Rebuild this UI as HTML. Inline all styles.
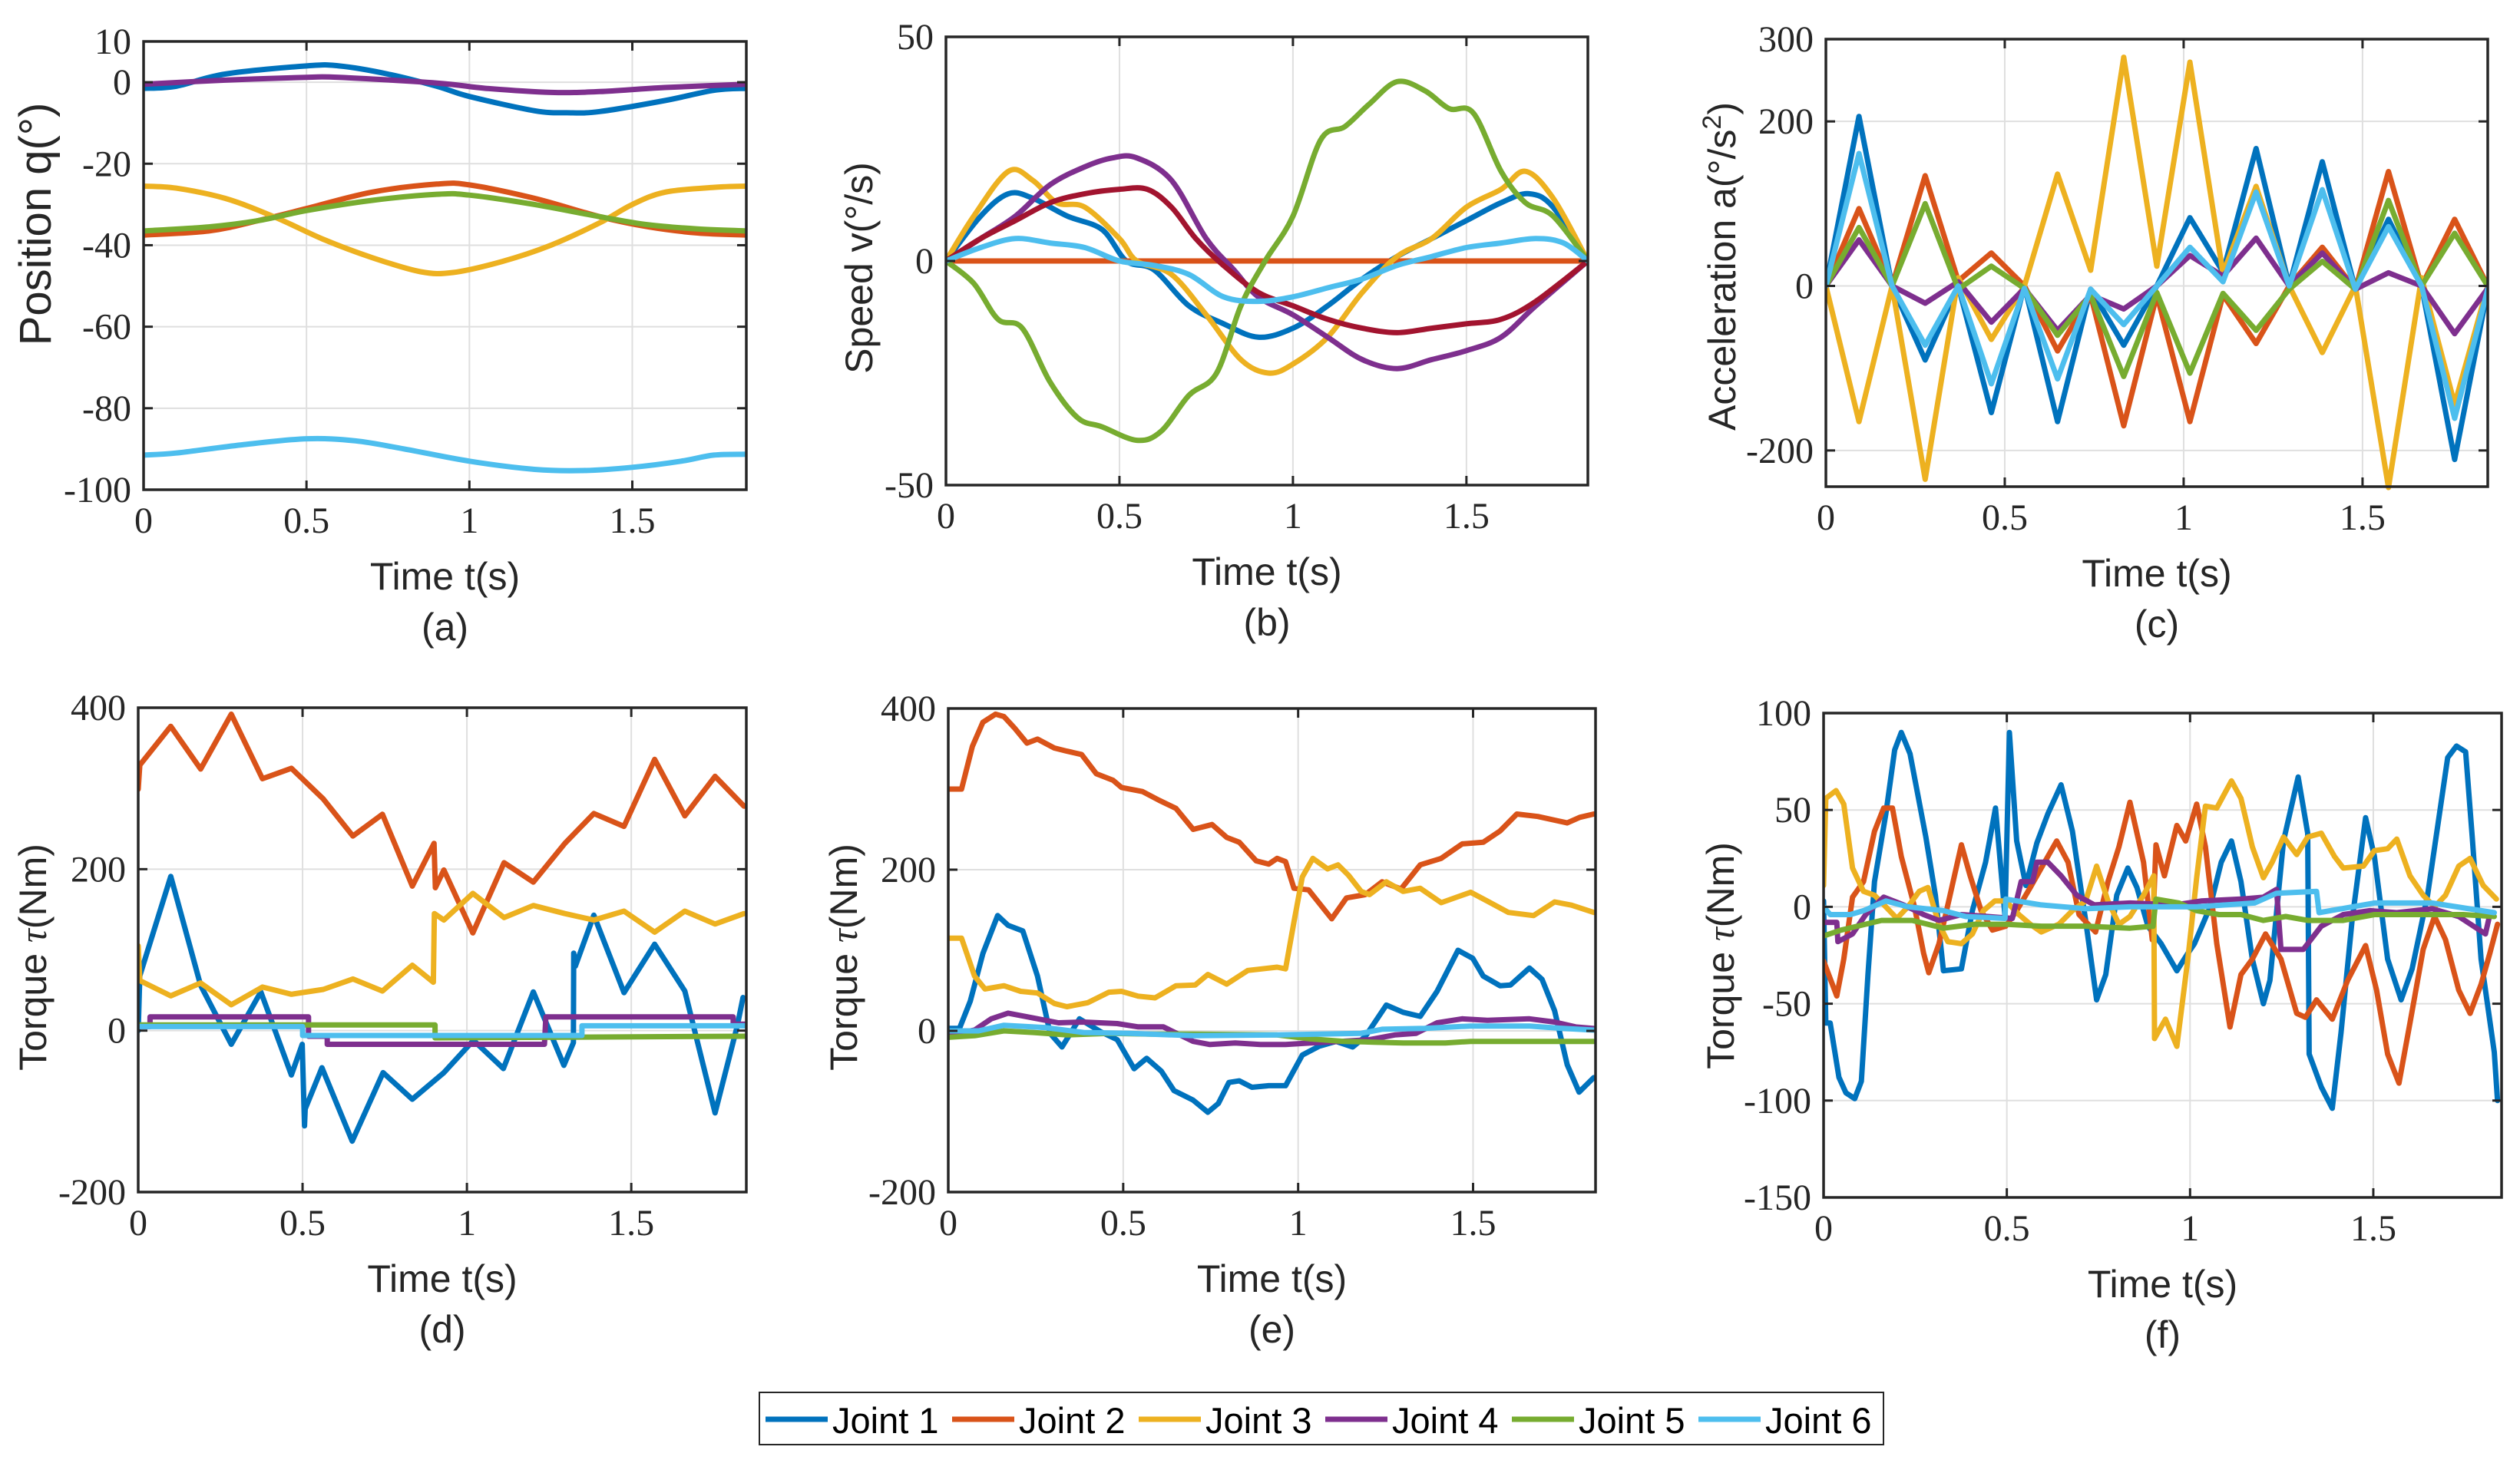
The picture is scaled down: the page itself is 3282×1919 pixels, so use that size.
<!DOCTYPE html>
<html><head><meta charset="utf-8"><title>Joint trajectories</title>
<style>
html,body{margin:0;padding:0;background:#fff;}
svg{display:block;}
.tick{font-family:"Liberation Serif",serif;font-size:48px;fill:#262626;}
.atitle{font-family:"Liberation Sans",sans-serif;font-size:50px;fill:#262626;}
.leg{font-family:"Liberation Sans",sans-serif;font-size:47px;fill:#000;}
</style></head>
<body>
<svg id="fig" xmlns="http://www.w3.org/2000/svg" width="3282" height="1919" viewBox="0 0 3282 1919">
<rect x="0" y="0" width="3282" height="1919" fill="#fff"/>
<g id="legend">
<rect x="989" y="1814" width="1464" height="68" fill="#fff" stroke="#262626" stroke-width="2"/>
</g>
</svg>
<script>
// ---------- colours ----------
const colors = ["#0072BD","#D95319","#EDB120","#7E2F8E","#77AC30","#4DBEEE","#A2142F"];
const jointNames = ["Joint 1","Joint 2","Joint 3","Joint 4","Joint 5","Joint 6"];

// ---------- (a) position ----------
const posTicksY = [-100,-80,-60,-40,-20,0,10];
const posT1 = [0,0.1,0.25,0.5,0.6,0.75,0.9,1.0,1.2,1.3,1.4,1.6,1.75,1.85];
const posQ1 = [-1.5,-1,2,4,4,2,-1,-3.5,-7,-7.5,-7.2,-4.5,-2,-1.5];
const posT2 = [0,0.2,0.35,0.5,0.7,0.9,1.0,1.2,1.4,1.55,1.7,1.85];
const posQ2 = [-37.5,-36.5,-34,-31,-27,-25,-25.2,-28.5,-33,-35.5,-37,-37.5];
const posT3 = [0,0.1,0.25,0.4,0.55,0.7,0.85,0.95,1.1,1.25,1.4,1.5,1.6,1.75,1.85];
const posQ3 = [-25.5,-26,-28.5,-33,-38.5,-43,-46.5,-46.7,-44,-40,-34.5,-30,-27,-25.8,-25.5];
const posT4 = [0,0.25,0.5,0.6,0.9,1.05,1.25,1.4,1.6,1.85];
const posQ4 = [-0.5,0.5,1.2,1.2,-0.2,-1.5,-2.5,-2.3,-1.3,-0.5];
const posT5 = [0,0.2,0.35,0.5,0.7,0.9,1.0,1.2,1.4,1.55,1.7,1.85];
const posQ5 = [-36.5,-35.5,-34,-31.5,-29,-27.5,-27.7,-30,-33,-35,-36,-36.5];
const posT6 = [0,0.1,0.3,0.5,0.65,0.8,1.0,1.2,1.35,1.5,1.65,1.75,1.85];
const posQ6 = [-91.5,-91,-89,-87.5,-88,-90,-93,-95,-95.3,-94.5,-93,-91.5,-91.3];

// ---------- (b) speed ----------
const spdTicksY = [-50,0,50];
const spdT1 = [0,0.1,0.18,0.25,0.35,0.45,0.52,0.6,0.7,0.8,0.9,1.0,1.1,1.2,1.3,1.4,1.5,1.6,1.68,1.75,1.85];
const spdV1 = [0,10,15,14,10,7,0,-2,-10,-14,-17,-15,-10,-4,1,5,9,13,15,12,0];
const spdT2 = [0,1.85];
const spdV2 = [0,0];
const spdT3 = [0,0.08,0.18,0.25,0.32,0.4,0.5,0.55,0.65,0.75,0.85,0.93,1.0,1.1,1.2,1.3,1.4,1.5,1.6,1.67,1.75,1.85];
const spdV3 = [0,10,20,18,13,12,5,0,-3,-12,-22,-25,-23,-17,-7,1,5,12,16,20,14,0];
const spdT4 = [0,0.1,0.2,0.3,0.4,0.48,0.55,0.65,0.75,0.83,0.9,1.0,1.1,1.2,1.3,1.4,1.5,1.6,1.7,1.85];
const spdV4 = [0,5,10,17,21,23,23,18,5,-2,-8,-12,-17,-22,-24,-22,-20,-17,-10,0];
const spdT7 = [0,0.1,0.2,0.3,0.4,0.5,0.58,0.65,0.72,0.8,0.9,1.0,1.1,1.2,1.3,1.4,1.5,1.6,1.7,1.85];
const spdV7 = [0,5,9,13,15,16,16,12,5,-1,-7,-10,-13,-15,-16,-15,-14,-13,-9,0];
const spdT5 = [0,0.08,0.15,0.22,0.3,0.38,0.45,0.55,0.62,0.7,0.78,0.85,0.92,1.0,1.08,1.15,1.22,1.3,1.38,1.45,1.52,1.6,1.67,1.75,1.85];
const spdV5 = [0,-5,-13,-15,-27,-35,-37,-40,-38,-30,-25,-10,0,10,27,30,35,40,38,34,33,20,13,10,0];
const spdT6 = [0,0.1,0.2,0.3,0.4,0.5,0.6,0.7,0.8,0.9,1.0,1.1,1.2,1.3,1.4,1.5,1.6,1.7,1.78,1.85];
const spdV6 = [0,3,5,4,3,0,-1,-3,-8,-9,-8,-6,-4,-1,1,3,4,5,4,0];

// ---------- (c) acceleration ----------
const accTicksY = [-200,0,200,300];
const accT = [0,0.0925,0.185,0.2775,0.37,0.4625,0.555,0.6475,0.74,0.8325,0.925,1.0175,1.11,1.2025,1.295,1.3875,1.48,1.5725,1.665,1.7575,1.85];
const accA1 = [0,206,0,-90,0,-154,0,-165,-4,-72,0,83,17,167,0,151,-4,81,0,-211,-4];
const accA2 = [0,94,0,134,6,40,0,-79,-11,-170,-11,-165,-11,-70,0,47,-4,139,0,81,0];
const accA3 = [0,-165,0,-235,10,-65,0,136,19,278,24,272,15,121,0,-81,0,-245,10,-144,0];
const accA4 = [0,56,0,-21,5,-44,-3,-54,-11,-28,0,37,12,58,0,40,-4,16,0,-58,-3];
const accA5 = [0,71,0,100,-4,24,-3,-60,-11,-110,-8,-106,-9,-54,-4,30,-4,104,0,64,0];
const accA6 = [0,161,0,-72,0,-119,-3,-113,-4,-47,0,47,5,114,0,117,-4,72,0,-161,-4];

// ---------- (d) torque (model) ----------
const trqTicksY = [-200,0,200,400];
const tqdT1 = [0,0.005,0.099,0.19,0.283,0.373,0.466,0.499,0.506,0.508,0.559,0.651,0.745,0.834,0.93,1.02,1.111,1.202,1.295,1.324,1.325,1.33,1.386,1.478,1.571,1.663,1.755,1.822,1.84];
const tqdV1 = [0,68,191,56,-17,48,-55,-17,-118,-97,-46,-137,-52,-85,-52,-12,-47,48,-43,-15,96,80,143,47,107,49,-102,5,41];
const tqdT2 = [0,0.005,0.099,0.19,0.283,0.378,0.466,0.563,0.653,0.743,0.834,0.9,0.904,0.93,1.018,1.113,1.202,1.298,1.386,1.478,1.571,1.663,1.755,1.843];
const tqdV2 = [299,329,377,324,392,312,325,287,241,268,179,232,177,199,121,208,184,232,269,253,336,266,315,278];
const tqdT3 = [0,0.005,0.099,0.19,0.283,0.378,0.466,0.563,0.653,0.743,0.834,0.898,0.901,0.93,1.018,1.113,1.202,1.298,1.386,1.478,1.571,1.663,1.755,1.843];
const tqdV3 = [105,62,43,59,32,54,45,51,64,49,81,60,145,137,170,140,155,145,137,148,122,148,132,145];
const tqdT4 = [0,0.036,0.036,0.518,0.518,0.575,0.575,1.236,1.24,1.81,1.81,1.85];
const tqdV4 = [5,5,17,17,-7,-7,-17,-17,17,17,8,8];
const tqdT5 = [0,0.903,0.903,1.85];
const tqdV5 = [7,7,-9,-7];
const tqdT6 = [0,0.5,0.5,1.35,1.35,1.85];
const tqdV6 = [5,5,-6,-6,6,6];

// ---------- (e) torque (measured) ----------
const tqeT1 = [0,0.032,0.063,0.099,0.141,0.171,0.213,0.255,0.291,0.325,0.375,0.435,0.483,0.531,0.567,0.609,0.645,0.7,0.742,0.772,0.802,0.832,0.868,0.916,0.964,1.012,1.06,1.108,1.156,1.192,1.252,1.3,1.349,1.397,1.457,1.499,1.529,1.577,1.607,1.661,1.697,1.733,1.769,1.803,1.845];
const tqeV1 = [3,3,37,96,143,131,124,68,-3,-20,15,-1,-11,-47,-34,-50,-74,-86,-101,-90,-64,-62,-70,-68,-68,-30,-19,-13,-20,-7,32,23,18,49,100,90,68,56,57,78,64,25,-42,-76,-58];
const tqeT2 = [0,0.038,0.069,0.099,0.135,0.159,0.189,0.225,0.255,0.303,0.339,0.381,0.423,0.471,0.495,0.555,0.603,0.651,0.7,0.754,0.796,0.832,0.88,0.916,0.94,0.964,0.988,1.03,1.096,1.138,1.192,1.24,1.294,1.349,1.409,1.469,1.529,1.577,1.625,1.685,1.769,1.805,1.845];
const tqeV2 = [300,300,353,383,393,390,376,357,362,351,347,343,319,311,302,297,286,276,250,256,240,234,211,207,214,210,177,175,139,165,169,185,176,206,214,232,234,248,269,266,258,265,269];
const tqeT3 = [0,0.038,0.075,0.105,0.159,0.207,0.255,0.303,0.339,0.399,0.459,0.495,0.543,0.591,0.651,0.706,0.742,0.796,0.856,0.94,0.964,0.988,1.012,1.042,1.084,1.114,1.144,1.18,1.204,1.252,1.3,1.349,1.409,1.493,1.541,1.601,1.673,1.733,1.781,1.845];
const tqeV3 = [115,115,68,52,56,49,47,34,30,35,48,49,43,41,56,57,70,58,75,79,77,135,191,214,201,206,193,173,169,185,173,177,159,172,161,147,143,160,156,147];
const tqeT4 = [0,0.075,0.123,0.171,0.243,0.315,0.387,0.483,0.543,0.615,0.7,0.748,0.82,0.892,0.964,1.036,1.12,1.204,1.276,1.337,1.397,1.469,1.541,1.661,1.733,1.793,1.845];
const tqeV4 = [-5,1,15,22,16,10,11,9,5,5,-13,-17,-15,-17,-17,-15,-13,-11,-5,-3,10,15,13,15,11,5,3];
const tqeT5 = [0,0.075,0.159,0.243,0.339,0.459,0.579,0.7,0.94,1.036,1.132,1.216,1.3,1.421,1.493,1.661,1.845];
const tqeV5 = [-8,-6,0,-2,-5,-3,-4,-4,-5,-10,-13,-14,-15,-15,-13,-13,-13];
const tqeT6 = [0,0.087,0.159,0.279,0.387,0.519,0.7,0.94,1.18,1.24,1.361,1.493,1.661,1.757,1.845];
const tqeV6 = [0,0,7,4,-2,-3,-6,-5,-3,2,3,6,6,3,1];

// ---------- (f) torque error ----------
const errTicksY = [-150,-100,-50,0,50,100];
const tqfT1 = [0,0.006,0.018,0.042,0.061,0.085,0.103,0.121,0.139,0.17,0.194,0.212,0.236,0.279,0.305,0.327,0.376,0.406,0.442,0.469,0.495,0.507,0.527,0.552,0.582,0.612,0.648,0.679,0.715,0.745,0.77,0.8,0.83,0.855,0.885,0.921,0.964,0.994,1.012,1.055,1.085,1.113,1.139,1.17,1.2,1.218,1.255,1.295,1.321,1.325,1.358,1.388,1.412,1.442,1.479,1.503,1.539,1.576,1.606,1.648,1.679,1.703,1.727,1.752,1.77,1.794,1.83,1.839];
const tqfV1 = [3,-60,-60,-88,-96,-99,-90,-35,13,48,81,90,79,36,6,-33,-32,-2,23,51,-5,90,34,11,33,48,63,39,-7,-48,-35,6,20,10,-10,-19,-33,-24,-19,0,23,34,13,-27,-50,-38,34,67,38,-76,-93,-104,-65,-7,46,26,-27,-48,-32,6,46,77,83,80,36,-27,-75,-100];
const tqfT2 = [0,0.036,0.055,0.079,0.109,0.139,0.164,0.188,0.212,0.248,0.273,0.287,0.315,0.345,0.376,0.4,0.43,0.461,0.497,0.527,0.564,0.594,0.636,0.667,0.697,0.742,0.776,0.806,0.836,0.873,0.897,0.907,0.93,0.964,0.988,1.018,1.042,1.073,1.109,1.139,1.17,1.206,1.248,1.291,1.315,1.345,1.388,1.43,1.479,1.509,1.539,1.57,1.6,1.636,1.667,1.697,1.733,1.764,1.794,1.818,1.839];
const tqfV2 = [-28,-46,-27,5,13,39,51,51,26,0,-24,-34,-19,6,32,16,-2,-12,-10,-2,10,20,34,23,-4,-13,13,31,54,23,-17,32,16,42,34,53,31,-19,-62,-35,-27,-14,-27,-55,-57,-48,-58,-38,-20,-43,-76,-91,-60,-22,-5,-17,-43,-55,-40,-24,-9];
const tqfT3 = [0,0.006,0.034,0.055,0.079,0.109,0.139,0.17,0.2,0.23,0.261,0.285,0.315,0.339,0.376,0.406,0.436,0.467,0.497,0.533,0.564,0.594,0.642,0.679,0.715,0.745,0.776,0.806,0.836,0.873,0.901,0.903,0.933,0.964,0.994,1.018,1.042,1.073,1.113,1.139,1.17,1.2,1.224,1.255,1.291,1.321,1.358,1.394,1.418,1.473,1.503,1.539,1.564,1.6,1.636,1.667,1.697,1.733,1.764,1.8,1.836];
const tqfV3 = [11,56,60,53,20,8,6,0,-6,0,8,10,-9,-18,-19,-14,-2,3,3,-4,-9,-13,-9,-2,3,21,3,-9,-5,6,16,-68,-58,-72,-27,15,52,51,65,56,31,15,23,36,27,36,38,26,20,21,29,30,35,16,6,0,6,21,25,11,4];
const tqfT4 = [0,0.036,0.039,0.079,0.115,0.164,0.218,0.273,0.315,0.376,0.448,0.515,0.539,0.57,0.582,0.612,0.648,0.691,0.739,0.836,0.958,1.03,1.139,1.2,1.236,1.248,1.309,1.358,1.418,1.491,1.564,1.661,1.733,1.806,1.818];
const tqfV4 = [-8,-8,-18,-14,-4,5,1,-4,-7,-4,-5,-6,13,13,23,23,16,6,1,2,1,3,4,5,9,-22,-22,-10,-4,-2,-3,-1,-5,-14,-4];
const tqfT5 = [0,0.048,0.158,0.242,0.327,0.412,0.497,0.594,0.715,0.836,0.899,0.907,0.97,1.018,1.079,1.139,1.2,1.261,1.321,1.418,1.503,1.624,1.745,1.83];
const tqfV5 = [-15,-12,-7,-7,-11,-9,-9,-10,-10,-11,-10,4,2,-2,-4,-4,-7,-5,-7,-7,-4,-4,-4,-5];
const tqfT6 = [0,0.018,0.073,0.109,0.17,0.23,0.327,0.388,0.495,0.497,0.594,0.715,0.836,1.018,1.176,1.236,1.345,1.352,1.503,1.661,1.83];
const tqfV6 = [0,-4,-4,-2,3,0,-2,-5,-6,4,1,-1,0,0,2,7,8,-3,2,2,-3];

const xTickVals = [0,0.5,1,1.5];
const xTickLabels = ["0","0.5","1","1.5"];

// ---------- helpers ----------
const NS = "http://www.w3.org/2000/svg";
const svg = document.getElementById("fig");
function mk(tag, attrs, parent){
  const e = document.createElementNS(NS, tag);
  for (const k in attrs) e.setAttribute(k, attrs[k]);
  (parent||svg).appendChild(e);
  return e;
}
function smoothPath(pts){
  if (pts.length < 3) return "M" + pts.map(p=>p[0].toFixed(1)+","+p[1].toFixed(1)).join(" L");
  let d = "M" + pts[0][0].toFixed(1) + "," + pts[0][1].toFixed(1);
  for (let i=0;i<pts.length-1;i++){
    const p0 = pts[Math.max(0,i-1)], p1 = pts[i], p2 = pts[i+1], p3 = pts[Math.min(pts.length-1,i+2)];
    const c1x = p1[0] + (p2[0]-p0[0])/6, c1y = p1[1] + (p2[1]-p0[1])/6;
    const c2x = p2[0] - (p3[0]-p1[0])/6, c2y = p2[1] - (p3[1]-p1[1])/6;
    d += " C" + c1x.toFixed(1)+","+c1y.toFixed(1)+" "+c2x.toFixed(1)+","+c2y.toFixed(1)+" "+p2[0].toFixed(1)+","+p2[1].toFixed(1);
  }
  return d;
}
function linePath(pts){
  return "M" + pts.map(p=>p[0].toFixed(1)+","+p[1].toFixed(1)).join(" L");
}

function makePanel(cfg){
  const g = mk("g", {});
  
  
  const xs = t => cfg.L + (t - 0) / (cfg.xmax) * (cfg.R - cfg.L);
  const ys = v => cfg.B - (v - cfg.ymin) / (cfg.ymax - cfg.ymin) * (cfg.B - cfg.T);
  xTickVals.forEach(t=>{
    const ln = mk("line",{x1:xs(t),x2:xs(t),y1:cfg.T,y2:cfg.B,stroke:"#dfdfdf","stroke-width":2},g);
    
    
  });
  cfg.yticks.forEach(v=>{
    const ln = mk("line",{x1:cfg.L,x2:cfg.R,y1:ys(v),y2:ys(v),stroke:"#dfdfdf","stroke-width":2},g);
    
    
  });
  const clipId = cfg.name + "-clip";
  const cp = mk("clipPath",{id:clipId},g);
  mk("rect",{x:cfg.L,y:cfg.T-5,width:cfg.R-cfg.L,height:cfg.B-cfg.T+10},cp);
  const sg = mk("g",{"clip-path":"url(#"+clipId+")"},g);
  cfg.series.forEach(s=>{
    const pts = s.t.map((t,i)=>[xs(t), ys(s.v[i])]);
    const p = mk("path",{d: cfg.smooth ? smoothPath(pts) : linePath(pts), fill:"none", stroke:colors[s.c], "stroke-width":7, "stroke-linejoin":"round","stroke-linecap":"round"}, sg);
    
    
  });
  const box = mk("rect",{x:cfg.L,y:cfg.T,width:cfg.R-cfg.L,height:cfg.B-cfg.T,fill:"none",stroke:"#262626","stroke-width":3.5},g);
  
  
  xTickVals.forEach((t,i)=>{
    mk("line",{x1:xs(t),x2:xs(t),y1:cfg.B,y2:cfg.B-12,stroke:"#262626","stroke-width":3},g);
    mk("line",{x1:xs(t),x2:xs(t),y1:cfg.T,y2:cfg.T+12,stroke:"#262626","stroke-width":3},g);
    const tx = mk("text",{x:xs(t),y:cfg.B+56,"text-anchor":"middle",class:"tick","font-family":"Liberation Serif, serif"},g);
    tx.textContent = xTickLabels[i];
    
    
  });
  cfg.yticks.forEach(v=>{
    mk("line",{x1:cfg.L,x2:cfg.L+12,y1:ys(v),y2:ys(v),stroke:"#262626","stroke-width":3},g);
    mk("line",{x1:cfg.R,x2:cfg.R-12,y1:ys(v),y2:ys(v),stroke:"#262626","stroke-width":3},g);
    const tx = mk("text",{x:cfg.L-16,y:ys(v)+16,"text-anchor":"end",class:"tick","font-family":"Liberation Serif, serif"},g);
    tx.textContent = String(v);
    
    
  });
  const cx = (cfg.L+cfg.R)/2;
  const xt = mk("text",{x:cx,y:cfg.B+130,"text-anchor":"middle",class:"atitle"},g);
  xt.textContent = "Time t(s)";
  
  
  const sub = mk("text",{x:cx,y:cfg.B+196,"text-anchor":"middle",class:"atitle"},g);
  sub.textContent = cfg.label;
  
  
  const yt = mk("text",{x:0,y:0,"text-anchor":"middle",class:"atitle",transform:"translate("+cfg.ytx+","+cfg.yty+") rotate(-90)"},g);
  if (cfg.ytsize) yt.setAttribute("style","font-size:"+cfg.ytsize+"px");
  yt.innerHTML = cfg.ytitle;
  
  
}

makePanel({name:"position-chart",L:187,R:972,T:54,B:638,xmax:1.85,ymin:-100,ymax:10,yticks:posTicksY,smooth:true,label:"(a)",
  ytitle:"Position q(°)",ytx:66,yty:292,ytsize:58,
  series:[{t:posT1,v:posQ1,c:0,name:"position-joint-1"},{t:posT2,v:posQ2,c:1,name:"position-joint-2"},{t:posT3,v:posQ3,c:2,name:"position-joint-3"},{t:posT4,v:posQ4,c:3,name:"position-joint-4"},{t:posT5,v:posQ5,c:4,name:"position-joint-5"},{t:posT6,v:posQ6,c:5,name:"position-joint-6"}]});
makePanel({name:"speed-chart",L:1232,R:2068,T:48,B:632,xmax:1.85,ymin:-50,ymax:50,yticks:spdTicksY,smooth:true,label:"(b)",
  ytitle:"Speed v(°/s)",ytx:1136,yty:349,
  series:[{t:spdT1,v:spdV1,c:0,name:"speed-joint-1"},{t:spdT2,v:spdV2,c:1,name:"speed-joint-2"},{t:spdT3,v:spdV3,c:2,name:"speed-joint-3"},{t:spdT4,v:spdV4,c:3,name:"speed-joint-4"},{t:spdT7,v:spdV7,c:6,name:"speed-extra-series"},{t:spdT5,v:spdV5,c:4,name:"speed-joint-5"},{t:spdT6,v:spdV6,c:5,name:"speed-joint-6"}]});
makePanel({name:"acceleration-chart",L:2378,R:3240,T:51,B:634,xmax:1.85,ymin:-244,ymax:300,yticks:accTicksY,smooth:false,label:"(c)",
  ytitle:"Acceleration a(°/s<tspan baseline-shift=\"super\" font-size=\"34\">2</tspan>)",ytx:2260,yty:347,
  series:[{t:accT,v:accA1,c:0,name:"acceleration-joint-1"},{t:accT,v:accA2,c:1,name:"acceleration-joint-2"},{t:accT,v:accA3,c:2,name:"acceleration-joint-3"},{t:accT,v:accA4,c:3,name:"acceleration-joint-4"},{t:accT,v:accA5,c:4,name:"acceleration-joint-5"},{t:accT,v:accA6,c:5,name:"acceleration-joint-6"}]});
makePanel({name:"torque-chart-d",L:180,R:972,T:922,B:1553,xmax:1.85,ymin:-200,ymax:400,yticks:trqTicksY,smooth:false,label:"(d)",
  ytitle:"Torque <tspan font-family=\"Liberation Serif\" font-style=\"italic\">τ</tspan>(Nm)",ytx:60,yty:1247,
  series:[{t:tqdT1,v:tqdV1,c:0,name:"torque-d-joint-1"},{t:tqdT2,v:tqdV2,c:1,name:"torque-d-joint-2"},{t:tqdT3,v:tqdV3,c:2,name:"torque-d-joint-3"},{t:tqdT4,v:tqdV4,c:3,name:"torque-d-joint-4"},{t:tqdT5,v:tqdV5,c:4,name:"torque-d-joint-5"},{t:tqdT6,v:tqdV6,c:5,name:"torque-d-joint-6"}]});
makePanel({name:"torque-chart-e",L:1235,R:2078,T:923,B:1553,xmax:1.85,ymin:-200,ymax:400,yticks:trqTicksY,smooth:false,label:"(e)",
  ytitle:"Torque <tspan font-family=\"Liberation Serif\" font-style=\"italic\">τ</tspan>(Nm)",ytx:1116,yty:1247,
  series:[{t:tqeT1,v:tqeV1,c:0,name:"torque-e-joint-1"},{t:tqeT2,v:tqeV2,c:1,name:"torque-e-joint-2"},{t:tqeT3,v:tqeV3,c:2,name:"torque-e-joint-3"},{t:tqeT4,v:tqeV4,c:3,name:"torque-e-joint-4"},{t:tqeT5,v:tqeV5,c:4,name:"torque-e-joint-5"},{t:tqeT6,v:tqeV6,c:5,name:"torque-e-joint-6"}]});
makePanel({name:"torque-chart-f",L:2375,R:3258,T:929,B:1560,xmax:1.85,ymin:-150,ymax:100,yticks:errTicksY,smooth:false,label:"(f)",
  ytitle:"Torque <tspan font-family=\"Liberation Serif\" font-style=\"italic\">τ</tspan>(Nm)",ytx:2258,yty:1245,
  series:[{t:tqfT1,v:tqfV1,c:0,name:"torque-f-joint-1"},{t:tqfT2,v:tqfV2,c:1,name:"torque-f-joint-2"},{t:tqfT3,v:tqfV3,c:2,name:"torque-f-joint-3"},{t:tqfT4,v:tqfV4,c:3,name:"torque-f-joint-4"},{t:tqfT5,v:tqfV5,c:4,name:"torque-f-joint-5"},{t:tqfT6,v:tqfV6,c:5,name:"torque-f-joint-6"}]});

// ---------- legend ----------
const legend = document.getElementById("legend");
jointNames.forEach((nm,i)=>{
  const x0 = 997 + i*243;
  const g = mk("g",{},legend);
  
  
  mk("line",{x1:x0,x2:x0+81,y1:1849,y2:1849,stroke:colors[i],"stroke-width":7},g);
  const t = mk("text",{x:x0+87,y:1867,class:"leg"},g);
  t.textContent = nm;
});
</script>
</body></html>
